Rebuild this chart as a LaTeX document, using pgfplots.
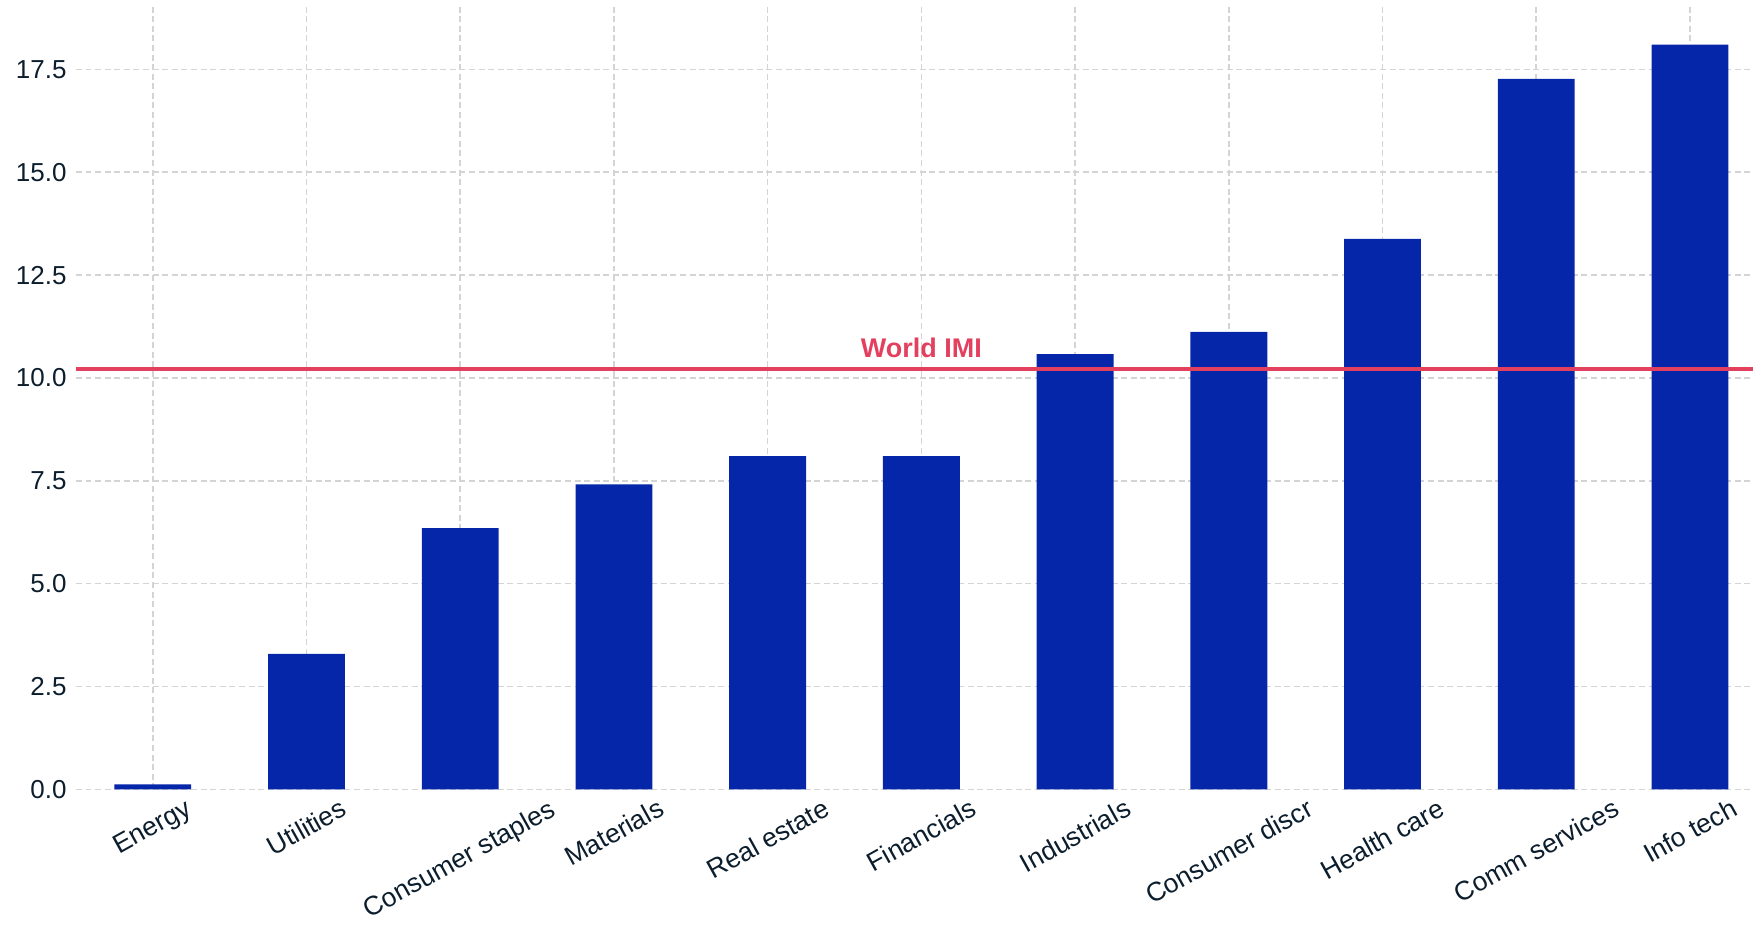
\documentclass[border=0pt]{standalone}
\usepackage{pgfplots}
\pgfplotsset{compat=1.18}
\usepackage{graphicx}
\usepackage{fontspec}
\setmainfont{Liberation Sans}
\definecolor{barblue}{RGB}{5,38,168}
\definecolor{imired}{RGB}{227,64,95}
\definecolor{ticktxt}{RGB}{12,30,45}
\definecolor{gridgray}{RGB}{212,212,212}
\begin{document}
\begin{tikzpicture}
\begin{axis}[
  scale only axis,
  width=839.5pt, height=392.3pt,
  xmin=-0.5, xmax=10.41, ymin=0, ymax=19.05,
  axis line style={draw=none},
  major tick length=0pt,
  xtick={0,1,2,3,4,5,6,7,8,9,10},
  xticklabels={\rotatebox{29}{Energy},\rotatebox{29}{Utilities},\rotatebox{29}{Consumer staples},\rotatebox{29}{Materials},\rotatebox{29}{Real estate},\rotatebox{29}{Financials},\rotatebox{29}{Industrials},\rotatebox{29}{Consumer discr},\rotatebox{29}{Health care},\rotatebox{29}{Comm services},\rotatebox{29}{Info tech}},
  ytick={0,2.5,5,7.5,10,12.5,15,17.5},
  scaled y ticks=false,
  yticklabel style={/pgf/number format/fixed,/pgf/number format/fixed zerofill,/pgf/number format/precision=1},
  /pgf/number format/assume math mode=true,
  grid=major,
  major grid style={gridgray, line width=0.8pt, dash pattern=on 3pt off 1.8pt},
  xticklabel style={font=\fontsize{13.3}{15}\selectfont, text=ticktxt, anchor=north, inner sep=0.5pt, yshift=-3.5pt},
  yticklabel style={font=\fontsize{13}{15}\selectfont, text=ticktxt, anchor=east, inner sep=0pt, xshift=-4.5pt},
  clip=false,
]
\path (rel axis cs:0,1) ++(-38pt,2.8pt) coordinate (bbTL);
\path (bbTL) rectangle (rel axis cs:1,1);
\addplot[ybar, bar width=0.5, fill=barblue, draw=none, bar shift=0pt] coordinates {
  (0,0.12) (1,3.29) (2,6.35) (3,7.41) (4,8.10) (5,8.10)
  (6,10.58) (7,11.12) (8,13.38) (9,17.27) (10,18.10)
};
\addplot[imired, line width=2pt, mark=none] coordinates {(-0.5,10.22) (10.41,10.22)};
\node[anchor=south, text=imired, font=\fontsize{13.5}{15}\selectfont\bfseries, inner sep=0pt, yshift=5.5pt] at (axis cs:5,10.22) {World IMI};
\end{axis}
\end{tikzpicture}
\end{document}
